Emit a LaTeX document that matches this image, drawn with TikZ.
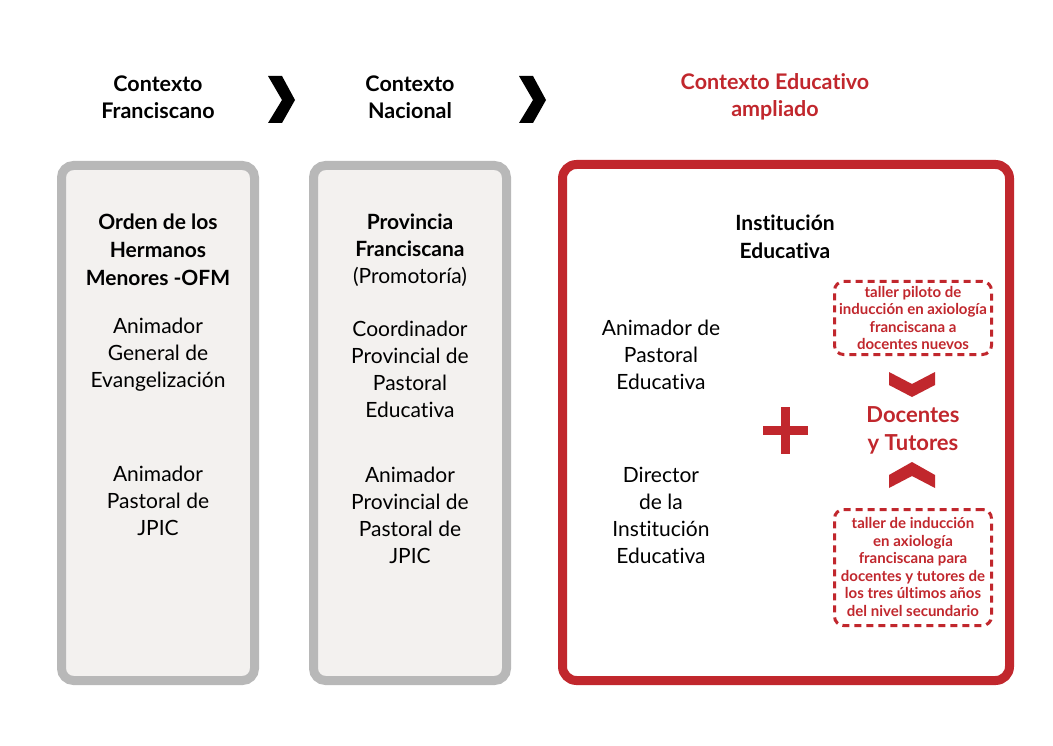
\documentclass[tikz,border=0pt]{standalone}
\usepackage{fontspec}
\setmainfont{Lato}[Ligatures=NoCommon]
\definecolor{fred}{RGB}{193,39,45}
\definecolor{gborder}{RGB}{184,184,184}
\definecolor{gfill}{RGB}{243,241,239}
\begin{document}
\begin{tikzpicture}[x=1pt,y=-1pt,
  head/.style={font=\bfseries\fontsize{21.5}{27}\selectfont, align=center, inner sep=0pt},
  body/.style={font=\fontsize{21}{27}\selectfont, align=center, inner sep=0pt, text=black},
  bodyb/.style={font=\bfseries\fontsize{21}{28}\selectfont, align=center, inner sep=0pt},
  graybox/.style={draw=gborder, fill=gfill, line width=9pt, rounded corners=12pt, minimum width=193pt, minimum height=515pt, inner sep=0pt},
  redbox/.style={draw=fred, line width=9pt, rounded corners=14pt, minimum width=447pt, minimum height=516pt, inner sep=0pt},
  dbox/.style={draw=fred, line width=3pt, dash pattern=on 7pt off 5pt, rounded corners=9pt, inner sep=0pt, minimum width=157pt},
  small/.style={font=\bfseries\fontsize{15}{17.5}\selectfont, align=center, text=fred, inner sep=0pt}
]
\useasboundingbox (0,0) rectangle (1053,746);
\fill[white] (0,0) rectangle (1053,746);

% headings
\node[head] (h1) at (158,97) {Contexto\\Franciscano};
\node[head] (h2) at (410,97) {Contexto\\Nacional};
\node[head, text=fred] (h3) at (775,97) {Contexto Educativo\\ampliado};

% chevrons between headings
\fill[black] (268,76) -- (282,76) -- (295,100) -- (282,123) -- (268,123) -- (282,100) -- cycle;
\fill[black] (519,76) -- (533,76) -- (546,100) -- (533,123) -- (519,123) -- (533,100) -- cycle;

% boxes
\node[graybox] (b1) at (158,423) {};
\node[graybox] (b2) at (410,423) {};
\node[redbox] (b3) at (786,422.5) {};

% box 1 texts
\node[bodyb] (o1) at (158,250) {Orden de los\\Hermanos\\Menores -OFM};
\node[body] (o2) at (158,355) {Animador\\General de\\Evangelización};
\node[body] (o3) at (158,501) {Animador\\Pastoral de\\JPIC};

% box 2 texts
\node[body] (p1) at (410,250) {\textbf{Provincia}\\\textbf{Franciscana}\\(Promotoría)};
\node[body] (p2) at (410,369) {Coordinador\\Provincial de\\Pastoral\\Educativa};
\node[body] (p3) at (410,515) {Animador\\Provincial de\\Pastoral de\\JPIC};

% box 3 texts
\node[bodyb] (i1) at (785,237) {Institución\\Educativa};
\node[body] (i2) at (661,355) {Animador de\\Pastoral\\Educativa};
\node[body] (i3) at (661,515) {Director\\de la\\Institución\\Educativa};

% plus
\fill[fred] (763,425.5) rectangle (808,434.5);
\fill[fred] (781,407) rectangle (790,454);

% dashed boxes
\node[dbox, minimum height=73pt] (t1) at (913,318) {};
\node[small] (t1t) at (913,318) {taller piloto de\\inducción en axiología\\franciscana a\\docentes nuevos};
\node[dbox, minimum height=116pt] (t2) at (913,567.5) {};
\node[small] (t2t) at (913,567) {taller de inducción\\en axiología\\franciscana para\\docentes y tutores de\\los tres últimos años\\del nivel secundario};

% red chevrons
\fill[fred] (889,372) -- (912,384) -- (935,372) -- (935,385) -- (912,397) -- (889,385) -- cycle;
\fill[fred] (889,488) -- (912,476) -- (935,488) -- (935,475) -- (912,462) -- (889,475) -- cycle;

\node[font=\bfseries\fontsize{22}{28}\selectfont, align=center, text=fred, inner sep=0pt] (dt) at (913,430) {Docentes\\y Tutores};
\end{tikzpicture}
\end{document}
